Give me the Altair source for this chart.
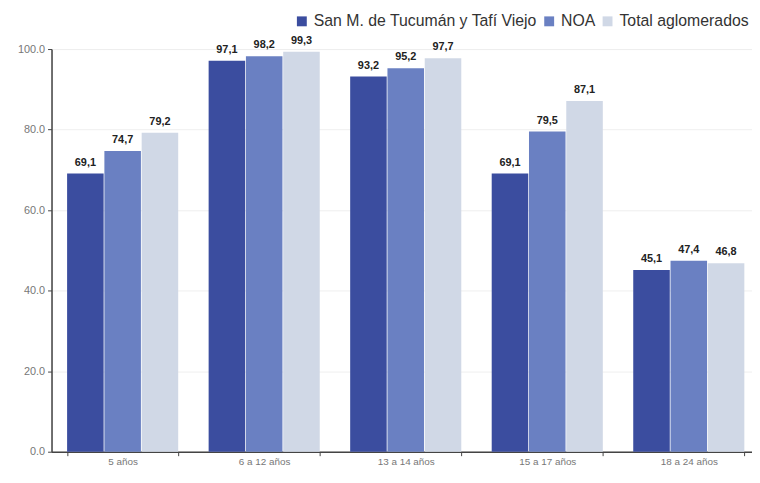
import altair as alt
import pandas as pd

categories = ["5 años", "6 a 12 años", "13 a 14 años", "15 a 17 años", "18 a 24 años"]
series = ["San M. de Tucumán y Tafí Viejo", "NOA", "Total aglomerados"]
tucuman = [69.1, 97.1, 93.2, 69.1, 45.1]
noa = [74.7, 98.2, 95.2, 79.5, 47.4]
total = [79.2, 99.3, 97.7, 87.1, 46.8]
colors = ["#3b4d9f", "#6a80c2", "#d0d8e6"]

rows = []
for s, vals in zip(series, [tucuman, noa, total]):
    for c, v in zip(categories, vals):
        rows.append({"cat": c, "serie": s, "valor": v,
                     "etiqueta": f"{v:.1f}".replace(".", ",")})
df = pd.DataFrame(rows)

x = alt.X("cat:N", sort=categories, title=None,
          scale=alt.Scale(paddingInner=0.215, paddingOuter=0.11, range=[0, 716]),
          axis=alt.Axis(labelAngle=0, tickBand="extent", tickSize=4,
                        domainColor="#444444", domainWidth=1.5,
                        tickColor="#444444", labelColor="#777777",
                        labelFontSize=10, labelPadding=1))
xo = alt.XOffset("serie:N", sort=series, scale=alt.Scale(paddingInner=0.02))
y = alt.Y("valor:Q", title=None,
          scale=alt.Scale(domain=[0, 100], nice=False),
          axis=alt.Axis(values=[0, 20, 40, 60, 80, 100],
                        labelExpr="format(datum.value, '.1f')",
                        tickSize=4, domainColor="#444444", domainWidth=1.5,
                        tickColor="#444444", labelColor="#777777",
                        labelFontSize=11, labelPadding=3,
                        gridColor="#efefef", gridWidth=1))

bars = alt.Chart(df).mark_bar().encode(
    x=x, xOffset=xo, y=y,
    color=alt.Color("serie:N", sort=series,
                    scale=alt.Scale(domain=series, range=colors),
                    legend=alt.Legend(title=None, orient="none",
                                      direction="horizontal",
                                      legendX=245, legendY=-36,
                                      symbolType="square", symbolSize=100,
                                      symbolStrokeWidth=0, labelFontSize=16,
                                      labelColor="#333333", labelOffset=4,
                                      columnPadding=4, padding=0,
                                      labelLimit=400)),
)

labels = alt.Chart(df).mark_text(
    baseline="bottom", dy=-6, fontSize=11, fontWeight="bold", color="#222222"
).encode(x=alt.X("cat:N", sort=categories), xOffset=xo, y="valor:Q",
         text="etiqueta:N")

chart = (bars + labels).properties(
    width=708, height=407,
    padding={"left": 44, "top": 39, "right": 0, "bottom": 16},
    autosize=alt.AutoSizeParams(type="none"),
    background="white",
).configure_view(stroke=None).configure(font="Liberation Sans")

chart.save("out.html", embed_options={"renderer": "svg", "actions": False})
